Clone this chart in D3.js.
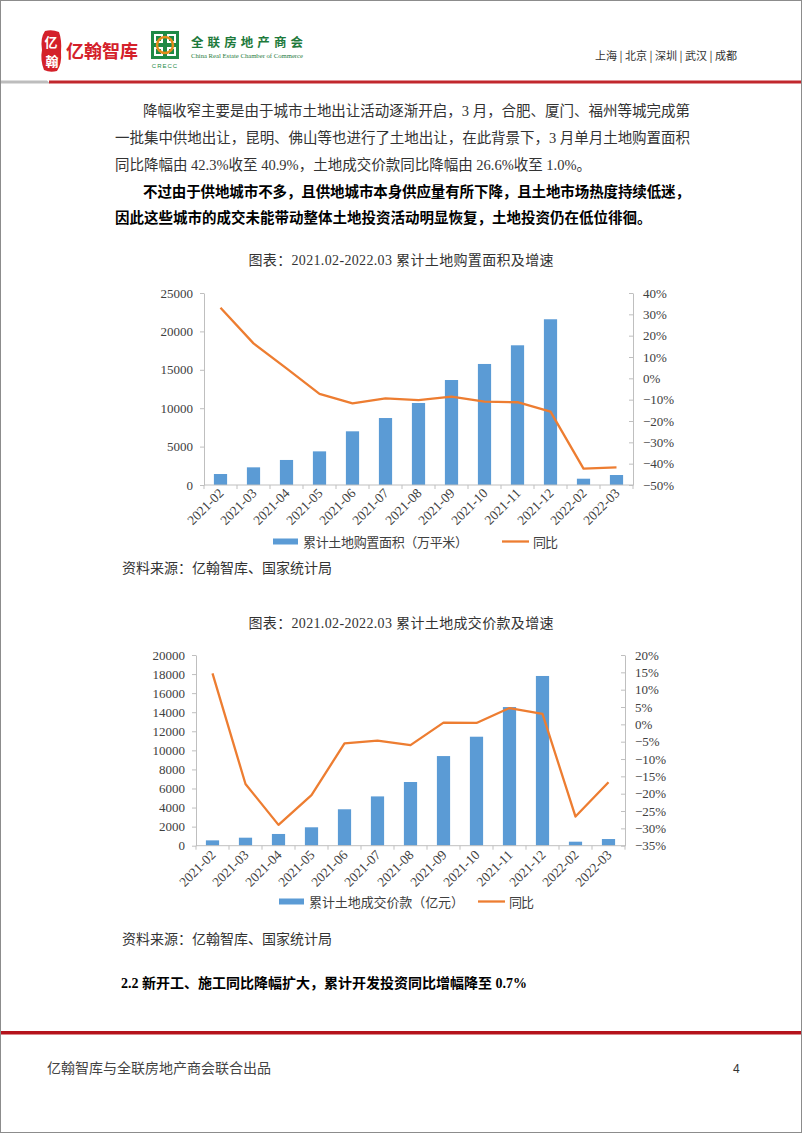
<!DOCTYPE html>
<html><head><meta charset="utf-8">
<script src="https://cdn.jsdelivr.net/npm/d3@7"></script>
<style>
html,body{margin:0;padding:0;background:#fff;}
svg{display:block;}
</style></head>
<body>
<svg id="page" width="802" height="1133"></svg>
<script>
// ---- DATA ----
const categories = ["2021-02","2021-03","2021-04","2021-05","2021-06","2021-07","2021-08","2021-09","2021-10","2021-11","2021-12","2022-02","2022-03"];
const landArea = [1430, 2300, 3260, 4380, 6990, 8720, 10680, 13670, 15760, 18190, 21580, 820, 1300];
const landAreaYoY = [33.1, 16.4, 4.7, -7.3, -11.7, -9.4, -10.2, -8.6, -10.9, -11.2, -15.6, -42.3, -41.7];
const landPrice = [560, 840, 1230, 1930, 3820, 5170, 6680, 9400, 11430, 14540, 17800, 420, 700];
const landPriceYoY = [14.7, -17.2, -29.0, -20.4, -5.5, -4.7, -6.0, 0.5, 0.4, 4.7, 3.0, -26.6, -16.7];
const leftTicks1 = [0, 5000, 10000, 15000, 20000, 25000];
const rightTicks1 = [-50, -40, -30, -20, -10, 0, 10, 20, 30, 40];
const leftTicks2 = [0, 2000, 4000, 6000, 8000, 10000, 12000, 14000, 16000, 18000, 20000];
const rightTicks2 = [-35, -30, -25, -20, -15, -10, -5, 0, 5, 10, 15, 20];
const bodyLines = [
  "降幅收窄主要是由于城市土地出让活动逐渐开启，3 月，合肥、厦门、福州等城完成第",
  "一批集中供地出让，昆明、佛山等也进行了土地出让，在此背景下，3 月单月土地购置面积",
  "同比降幅由 42.3%收至 40.9%，土地成交价款同比降幅由 26.6%收至 1.0%。",
  "不过由于供地城市不多，且供地城市本身供应量有所下降，且土地市场热度持续低迷，",
  "因此这些城市的成交未能带动整体土地投资活动明显恢复，土地投资仍在低位徘徊。"
];
const cities = "上海 | 北京 | 深圳 | 武汉 | 成都";

const SERIF = "'Liberation Serif','DejaVu Serif','Noto Sans CJK SC',serif";
const CJK = "'Liberation Serif','Noto Sans CJK SC',sans-serif";
const BLUE = "#5B9BD5", ORANGE = "#ED7D31", AXIS = "#BFBFBF", LABEL = "#404040";

const svg = d3.select("#page");

// page frame
svg.append("rect").attr("x",0.5).attr("y",0.5).attr("width",801).attr("height",1132)
  .attr("fill","#fff").attr("stroke","#8c8c8c");

// ---- HEADER ----
const hdr = svg.append("g");
hdr.append("path").attr("d","M45,31 Q52,29 59,32 Q62,40 61,52 Q62,64 57,71 Q50,73 44,70 Q40,60 42,50 Q40,38 45,31 Z").attr("fill","#d4212a");
hdr.append("text").attr("x",51).attr("y",47).attr("text-anchor","middle").attr("font-size",13).attr("fill","#fff")
  .attr("font-family",CJK).attr("font-weight","bold").text("亿");
hdr.append("text").attr("x",52).attr("y",66).attr("text-anchor","middle").attr("font-size",13).attr("fill","#fff")
  .attr("font-family",CJK).attr("font-weight","bold").text("翰");
hdr.append("text").attr("x",66).attr("y",58).attr("font-size",18).attr("fill","#d4212a")
  .attr("font-family","'Noto Sans CJK SC',sans-serif").attr("font-weight","bold")
  .attr("textLength",72).attr("lengthAdjust","spacingAndGlyphs").text("亿翰智库");
// CRECC logo
const lg = hdr.append("g").attr("transform","translate(151,31)");
lg.append("rect").attr("x",0).attr("y",0).attr("width",28).attr("height",28).attr("fill","#1e8a46");
[[3,3],[16,3],[3,16],[16,16]].forEach(p=>lg.append("rect").attr("x",p[0]).attr("y",p[1]).attr("width",9).attr("height",9).attr("fill","#fff"));
[[5,5],[18,5],[5,18],[18,18]].forEach(p=>lg.append("rect").attr("x",p[0]).attr("y",p[1]).attr("width",5).attr("height",5).attr("fill","#1e8a46"));
lg.append("circle").attr("cx",14).attr("cy",14).attr("r",8).attr("fill","none").attr("stroke","#e38d1b").attr("stroke-width",2.5);
lg.append("text").attr("x",14).attr("y",37).attr("text-anchor","middle").attr("font-size",6).attr("fill","#1e8a46")
  .attr("font-family","'Liberation Sans',sans-serif").attr("letter-spacing",1).text("CRECC");
hdr.append("text").attr("x",191).attr("y",47).attr("font-size",12.5).attr("fill","#1e7a3c").attr("font-weight","bold")
  .attr("font-family",CJK).attr("textLength",112).attr("lengthAdjust","spacing").text("全联房地产商会");
hdr.append("text").attr("x",191).attr("y",58).attr("font-size",6.5).attr("fill","#1e7a3c")
  .attr("font-family",SERIF).attr("textLength",112).attr("lengthAdjust","spacingAndGlyphs").text("China Real Estate Chamber of Commerce");
hdr.append("text").attr("x",595).attr("y",60).attr("font-size",11).attr("fill","#333")
  .attr("font-family","'Noto Sans CJK SC',sans-serif").attr("textLength",142).attr("lengthAdjust","spacingAndGlyphs").text(cities);
hdr.append("path").attr("d","M1,80.5 L47,80.5 L50,83.5 L1,83.5 Z").attr("fill","#bdbdbd");
hdr.append("rect").attr("x",49).attr("y",80.5).attr("width",752).attr("height",3).attr("fill","#c1272d");

// ---- BODY TEXT ----
const bodyCfg = [
  {x:143, y:116, len:547, bold:false},
  {x:115, y:143, len:575, bold:false},
  {x:115, y:169.5, len:null, bold:false},
  {x:143, y:196.5, len:547, bold:true},
  {x:115, y:222.5, len:null, bold:true}
];
bodyLines.forEach((t,i)=>{
  const c = bodyCfg[i];
  const el = svg.append("text").attr("x",c.x).attr("y",c.y).attr("font-size",14.5)
    .attr("font-family",CJK).attr("fill", c.bold ? "#000" : "#333")
    .attr("font-weight", c.bold ? "bold" : "normal").text(t);
  if (c.len) el.attr("textLength",c.len).attr("lengthAdjust","spacing");
});

// ---- CHART FUNCTION ----
function drawChart(opt){
  const g = svg.append("g");
  g.append("text").attr("x",401).attr("y",opt.titleY).attr("text-anchor","middle").attr("font-size",14)
    .attr("font-family",CJK).attr("fill","#333").attr("textLength",305).attr("lengthAdjust","spacing").text(opt.title);

  const x = d3.scaleBand().domain(categories).range([opt.x0,opt.x1]).paddingInner(0.6).paddingOuter(0.3);
  const yL = d3.scaleLinear().domain([opt.leftTicks[0], opt.leftTicks[opt.leftTicks.length-1]]).range([opt.yB,opt.yT]);
  const yR = d3.scaleLinear().domain([opt.rightTicks[0], opt.rightTicks[opt.rightTicks.length-1]]).range([opt.yB,opt.yT]);

  // bars
  g.append("g").selectAll("rect").data(opt.bars).join("rect")
    .attr("x",(d,i)=>x(categories[i])).attr("width",x.bandwidth())
    .attr("y",d=>yL(d)).attr("height",d=>yL(0)-yL(d)).attr("fill",BLUE);

  // left axis
  const la = g.append("g").attr("transform",`translate(${opt.x0},0)`)
    .call(d3.axisLeft(yL).tickValues(opt.leftTicks).tickSize(4).tickSizeOuter(0).tickPadding(7).tickFormat(d3.format("d")));
  // right axis
  const ra = g.append("g").attr("transform",`translate(${opt.x1},0)`)
    .call(d3.axisRight(yR).tickValues(opt.rightTicks).tickSize(-4).tickSizeOuter(0).tickPadding(10).tickFormat(d=> (d<0?"\u2212"+(-d):d)+"%"));
  [la,ra].forEach(a=>{
    a.select(".domain").attr("stroke",AXIS);
    a.selectAll(".tick line").attr("stroke",AXIS);
    a.selectAll(".tick text").attr("fill",LABEL).attr("font-size",13).attr("font-family",SERIF);
  });

  // x axis
  const step = x.step();
  const bounds = categories.map(c=>x(c) - step*0.3).concat([opt.x1]);
  const xa = g.append("g");
  xa.append("line").attr("x1",opt.x0).attr("x2",opt.x1).attr("y1",opt.yB).attr("y2",opt.yB).attr("stroke",AXIS);
  xa.selectAll("line.tk").data(bounds).join("line").attr("class","tk")
    .attr("x1",d=>d).attr("x2",d=>d).attr("y1",opt.yB).attr("y2",opt.yB+4).attr("stroke",AXIS);
  xa.selectAll("text").data(categories).join("text")
    .attr("transform",c=>`translate(${x(c)+x.bandwidth()/2+4},${opt.yB+opt.labOff}) rotate(-45)`)
    .attr("text-anchor","end").attr("font-size",13.5).attr("font-family",SERIF).attr("fill",LABEL).text(c=>c);

  // line
  const line = d3.line().x((d,i)=>x(categories[i])+x.bandwidth()/2).y(d=>yR(d));
  g.append("path").datum(opt.yoy).attr("d",line).attr("fill","none").attr("stroke",ORANGE)
    .attr("stroke-width",2.3).attr("stroke-linejoin","round");

  // legend
  const lgd = g.append("g");
  lgd.append("rect").attr("x",opt.leg[0]).attr("y",opt.legY-3).attr("width",25).attr("height",6).attr("fill",BLUE);
  lgd.append("text").attr("x",opt.leg[0]+30).attr("y",opt.legY+5).attr("font-size",13).attr("font-family",CJK)
    .attr("fill",LABEL).attr("textLength",opt.leg[1]).attr("lengthAdjust","spacing").text(opt.barName);
  lgd.append("line").attr("x1",opt.leg[2]).attr("x2",opt.leg[2]+27).attr("y1",opt.legY).attr("y2",opt.legY)
    .attr("stroke",ORANGE).attr("stroke-width",2.3);
  lgd.append("text").attr("x",opt.leg[2]+31).attr("y",opt.legY+5).attr("font-size",13).attr("font-family",CJK)
    .attr("fill",LABEL).attr("textLength",25).attr("lengthAdjust","spacing").text("同比");

  g.append("text").attr("x",opt.srcX).attr("y",opt.srcY).attr("font-size",14).attr("font-family",CJK)
    .attr("fill","#333").text("资料来源：亿翰智库、国家统计局");
}

drawChart({
  title:"图表：2021.02-2022.03 累计土地购置面积及增速", titleY:265,
  x0:204, x1:633, yT:293, yB:485, labOff:9,
  leftTicks:leftTicks1, rightTicks:rightTicks1, bars:landArea, yoy:landAreaYoY,
  barName:"累计土地购置面积（万平米）", leg:[273,165,502], legY:541.5,
  srcX:122, srcY:573
});
drawChart({
  title:"图表：2021.02-2022.03 累计土地成交价款及增速", titleY:628,
  x0:196, x1:625, yT:655, yB:845.7, labOff:10,
  leftTicks:leftTicks2, rightTicks:rightTicks2, bars:landPrice, yoy:landPriceYoY,
  barName:"累计土地成交价款（亿元）", leg:[279,155,478], legY:901.5,
  srcX:122, srcY:944
});

// ---- SECTION HEADING & FOOTER ----
svg.append("text").attr("x",121).attr("y",988).attr("font-size",14).attr("font-family",CJK)
  .attr("font-weight","bold").attr("fill","#000").text("2.2 新开工、施工同比降幅扩大，累计开发投资同比增幅降至 0.7%");
svg.append("rect").attr("x",1).attr("y",1031).attr("width",800).attr("height",3.5).attr("fill","#b5121b");
svg.append("text").attr("x",47).attr("y",1073).attr("font-size",14).attr("font-family",CJK)
  .attr("fill","#444").text("亿翰智库与全联房地产商会联合出品");
svg.append("text").attr("x",733).attr("y",1073).attr("font-size",12).attr("font-family","'Liberation Sans',sans-serif")
  .attr("fill","#333").text("4");
</script>
</body></html>
